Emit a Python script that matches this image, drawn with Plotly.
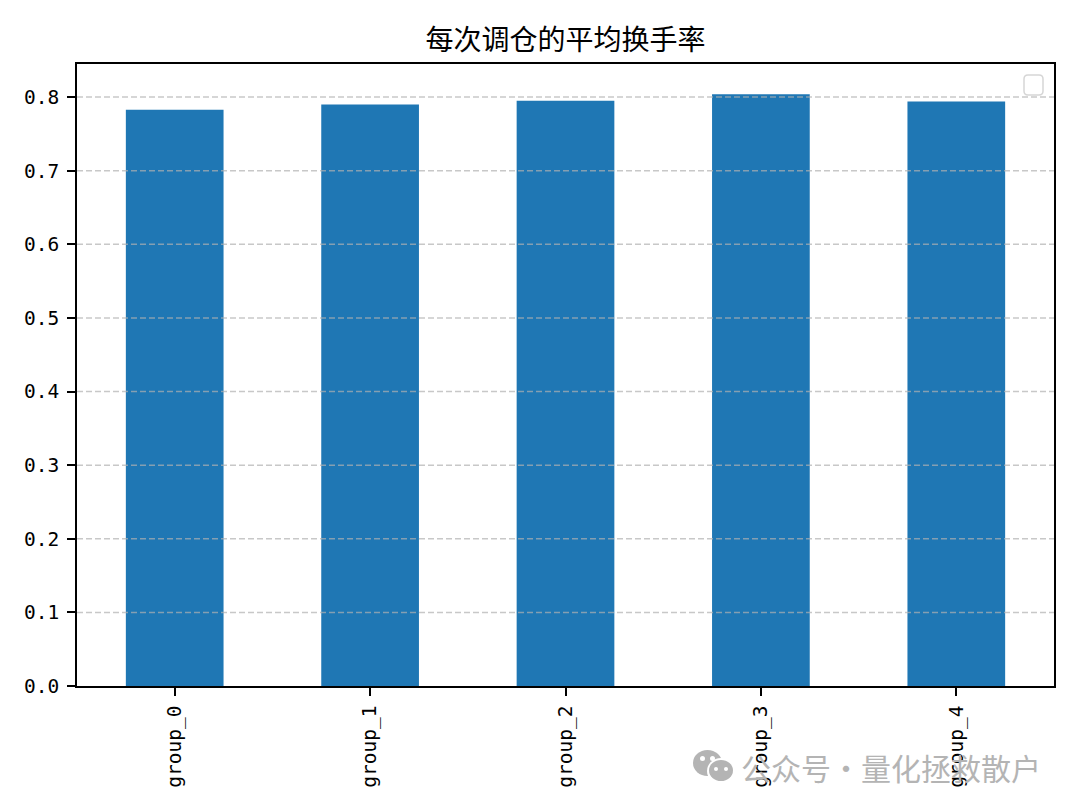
import plotly.graph_objects as go

# values
groups = ["group_0", "group_1", "group_2", "group_3", "group_4"]
turnover = [0.783, 0.790, 0.795, 0.804, 0.794]
y_ticks = [0.0, 0.1, 0.2, 0.3, 0.4, 0.5, 0.6, 0.7, 0.8]
y_labels = ["0.0", "0.1", "0.2", "0.3", "0.4", "0.5", "0.6", "0.7", "0.8"]
title_text = "每次调仓的平均换手率"
watermark_text = "公众号·量化拯救散户"

# page body has an 8px margin, so the figure is a bit smaller than the window
PAGE = 8
W, H = 1080 - 2 * PAGE, 810 - 2 * PAGE
L, R, T, B = 77, 1054, 64, 686


# screenshot pixels -> plotly paper coords (paper = plot area)
def px_x(x):
    return (x - L) / (R - L)


def px_y(y):
    return (B - y) / (B - T)


fig = go.Figure()
fig.add_trace(go.Bar(x=groups, y=turnover, width=0.5, marker_color="#1f77b4", marker_line_width=0))

# grid sits above the bars in the original
shapes = []
for t in y_ticks[1:]:
    shapes.append(dict(type="line", xref="x domain", yref="y", x0=0, x1=1, y0=t, y1=t, layer="above",
                       line=dict(color="rgba(176,176,176,0.7)", width=1.5, dash="6px,3px")))

# empty legend box, top right
lx0, lx1, ly0, ly1 = px_x(1024), px_x(1043), px_y(75), px_y(95)
rx, ry = 4 / (R - L), 4 / (B - T)
path = (f"M {lx0 + rx} {ly0} L {lx1 - rx} {ly0} Q {lx1} {ly0} {lx1} {ly0 - ry} "
        f"L {lx1} {ly1 + ry} Q {lx1} {ly1} {lx1 - rx} {ly1} "
        f"L {lx0 + rx} {ly1} Q {lx0} {ly1} {lx0} {ly1 + ry} "
        f"L {lx0} {ly0 - ry} Q {lx0} {ly0} {lx0 + rx} {ly0} Z")
shapes.append(dict(type="path", xref="paper", yref="paper", path=path, layer="above",
                   fillcolor="rgba(255,255,255,0.8)", line=dict(color="#d6d6d6", width=1.5)))


# wechat icon in the watermark
def blob(x0, y0, x1, y1, color):
    shapes.append(dict(type="circle", xref="paper", yref="paper", layer="above", fillcolor=color,
                       line_width=0, x0=px_x(x0), x1=px_x(x1), y0=px_y(y1), y1=px_y(y0)))


grey = "#b4b4b4"
blob(693, 750, 722, 776, grey)
blob(707, 758, 735, 784, "#ffffff")
blob(709, 760, 733, 781, grey)
for e in [(700, 756, 705, 761), (710, 756, 715, 761), (714, 767, 718, 771), (724, 767, 728, 771)]:
    blob(*e, "#ffffff")

fig.update_layout(
    width=W,
    height=H,
    margin=dict(l=L - PAGE, r=W + PAGE - R, t=T - PAGE, b=H + PAGE - B, autoexpand=False),
    paper_bgcolor="white",
    plot_bgcolor="white",
    showlegend=False,
    shapes=shapes,
    title=dict(text=title_text, x=((L + R) / 2 - PAGE) / W, xanchor="center", y=1 - (40 - PAGE) / H,
               yanchor="middle", font=dict(family="Noto Sans CJK SC", size=28, color="black")),
    annotations=[dict(text=watermark_text, xref="paper", yref="paper", x=px_x(739), y=px_y(767),
                      xanchor="left", yanchor="middle", showarrow=False,
                      font=dict(family="Noto Sans CJK SC", size=30, color="#b4b4b4"))],
)
fig.update_xaxes(
    range=[-0.5, 4.5], tickangle=-90, ticks="outside", ticklen=8, tickwidth=1.5, tickcolor="black",
    showline=True, linecolor="black", linewidth=1.5, mirror=True, showgrid=False, ticklabelstandoff=2,
    tickfont=dict(family="DejaVu Sans Mono", size=19.5, color="black"),
)
fig.update_yaxes(
    range=[0, 0.845], tickvals=y_ticks, ticktext=y_labels, ticks="outside", ticklen=8, tickwidth=1.5,
    tickcolor="black", showline=True, linecolor="black", linewidth=1.5, mirror=True, showgrid=False,
    zeroline=False, ticklabelstandoff=4, tickfont=dict(family="DejaVu Sans Mono", size=19.5, color="black"),
)

fig.write_html("out.html")
